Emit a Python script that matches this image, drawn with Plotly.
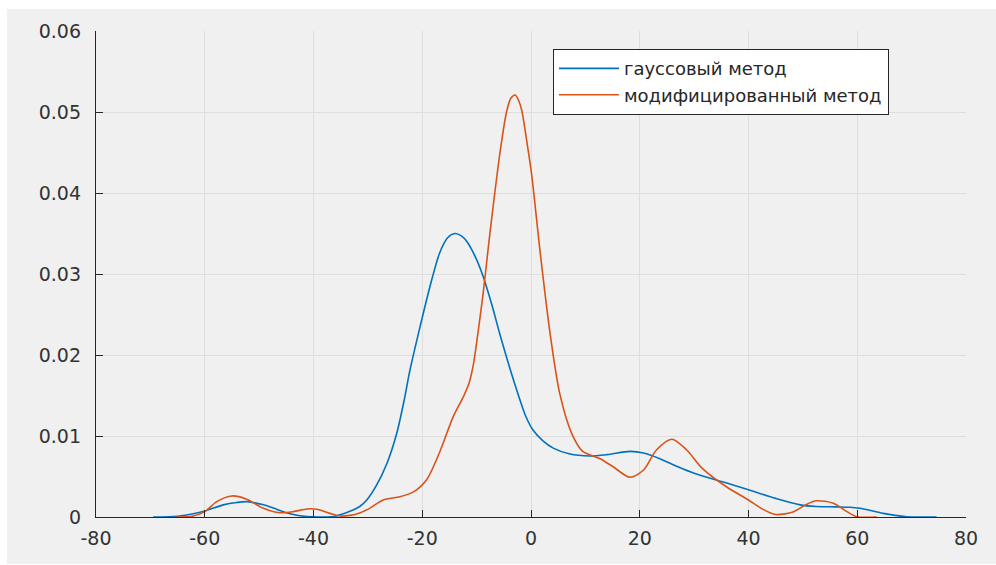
import plotly.graph_objects as go

# Density estimates for the two methods
gauss_x = [-69.5, -65, -62.1, -60, -56.6, -54.1, -52.2, -49.2, -47.4, -44.3, -41.2, -38, -36,
           -33.3, -31.5, -30.2, -28.5, -26.5, -24.7, -23.3, -22.3, -20.4, -18.6, -16.8, -15.3,
           -14.0, -12.8, -11.8, -10.3, -8.8, -7.2, -5.7, -4.0, -2.3, -1.0, 0.4, 2.2, 4.1, 7,
           10.8, 14, 18.2, 20.7, 23.7, 27, 30, 36, 40.3, 45, 49.5, 52.5, 56, 58.7, 60.5, 62.5,
           64.8, 67, 69.1, 72, 74.6]
gauss_y = [0, 0.0001, 0.0004, 0.00074, 0.0015, 0.0018, 0.0019, 0.0015, 0.0011, 0.0004, 0.00005,
           0.0, 0.0001, 0.0007, 0.0013, 0.0021, 0.0038, 0.0066, 0.0103, 0.0145, 0.0180, 0.0235,
           0.0284, 0.0326, 0.0345, 0.0350, 0.0347, 0.0340, 0.0322, 0.0297, 0.0262, 0.0225,
           0.0186, 0.0150, 0.0125, 0.0107, 0.0094, 0.0085, 0.0078, 0.00753, 0.0077, 0.0081,
           0.0079, 0.0072, 0.0062, 0.0054, 0.0042, 0.0033, 0.0023, 0.0015, 0.0013, 0.00125,
           0.0012, 0.00107, 0.0008, 0.00045, 0.0002, 0.00004, 0, 0]

mod_x = [-65.2, -62.1, -60, -57.8, -55.0, -52.3, -49.2, -46.2, -43.7, -41.2, -39.4, -37.0,
         -35.1, -33.3, -31.5, -29.6, -27.2, -24.1, -21.6, -19.2, -16.8, -14.3, -12.4, -11.4,
         -10.6, -9.8, -8.8, -7.9, -6.9, -5.7, -4.5, -3.7, -2.9, -2.2, -1.7, -0.8, 0.1, 1.7,
         3.5, 5.3, 7.5, 9.5, 12.7, 15.1, 18.2, 20.7, 23.1, 25.9, 28.6, 31.5, 36.0, 40, 42.5,
         45, 48.3, 50.5, 52.5, 55.6, 58.1, 59.9, 63.6]
mod_y = [0, 0.00012, 0.00066, 0.0019, 0.0026, 0.0022, 0.00107, 0.00053, 0.00066, 0.00099,
         0.00095, 0.00045, 0.00012, 0.0002, 0.0005, 0.0011, 0.0021, 0.0025, 0.0031, 0.0046,
         0.0080, 0.0124, 0.0149, 0.0165, 0.0188, 0.0225, 0.0276, 0.0330, 0.0387, 0.0450,
         0.0500, 0.0517, 0.0521, 0.0513, 0.0502, 0.0465, 0.0424, 0.0326, 0.0227, 0.0152,
         0.0103, 0.0081, 0.0072, 0.0062, 0.0049, 0.0058, 0.0083, 0.0096, 0.0083, 0.0060,
         0.0037, 0.0021, 0.0010, 0.0003, 0.00066, 0.0015, 0.0020, 0.0017, 0.00066, 0.00004, 0]

series_names = ["гауссовый метод", "модифицированный метод"]

x_ticks = [-80, -60, -40, -20, 0, 20, 40, 60, 80]
x_tick_text = ["-80", "-60", "-40", "-20", "0", "20", "40", "60", "80"]
y_ticks = [0, 0.01, 0.02, 0.03, 0.04, 0.05, 0.06]
y_tick_text = ["0", "0.01", "0.02", "0.03", "0.04", "0.05", "0.06"]

fig = go.Figure()
fig.add_trace(go.Scatter(x=gauss_x, y=gauss_y, mode="lines", name=series_names[0],
                         line=dict(color="#0072BD", width=1.6, shape="spline", smoothing=0.8)))
fig.add_trace(go.Scatter(x=mod_x, y=mod_y, mode="lines", name=series_names[1],
                         line=dict(color="#D95319", width=1.6, shape="spline", smoothing=0.8)))

axis_common = dict(
    showgrid=True, gridcolor="#dedede", gridwidth=1,
    showline=True, linecolor="#262626", linewidth=1.4,
    ticks="inside", ticklen=7, tickcolor="#262626", tickwidth=1.2,
    zeroline=False, mirror=False,
    tickfont=dict(family="DejaVu Sans", size=19, color="#333333"),
)

fig.update_xaxes(range=[-80, 80], tickvals=x_ticks, ticktext=x_tick_text,
                 ticklabelstandoff=4, **axis_common)
fig.update_yaxes(range=[0, 0.06], tickvals=y_ticks, ticktext=y_tick_text,
                 ticklabelstandoff=10, **axis_common)

fig.update_layout(
    width=996, height=565,
    margin=dict(l=96, r=30, t=31, b=48),
    paper_bgcolor="white",
    plot_bgcolor="white",
    showlegend=True,
    legend=dict(
        x=0.525, y=0.963, xanchor="left", yanchor="top",
        bgcolor="white", bordercolor="#262626", borderwidth=1.2,
        font=dict(family="DejaVu Sans", size=18, color="#262626"),
        itemwidth=60, tracegroupgap=0,
    ),
    shapes=[dict(type="rect", xref="paper", yref="paper",
                 x0=-0.1023, x1=1.04, y0=-0.0967, y1=1.0453,
                 fillcolor="#f0f0f0", line=dict(width=0), layer="below")],
)

fig.write_html("out.html")
